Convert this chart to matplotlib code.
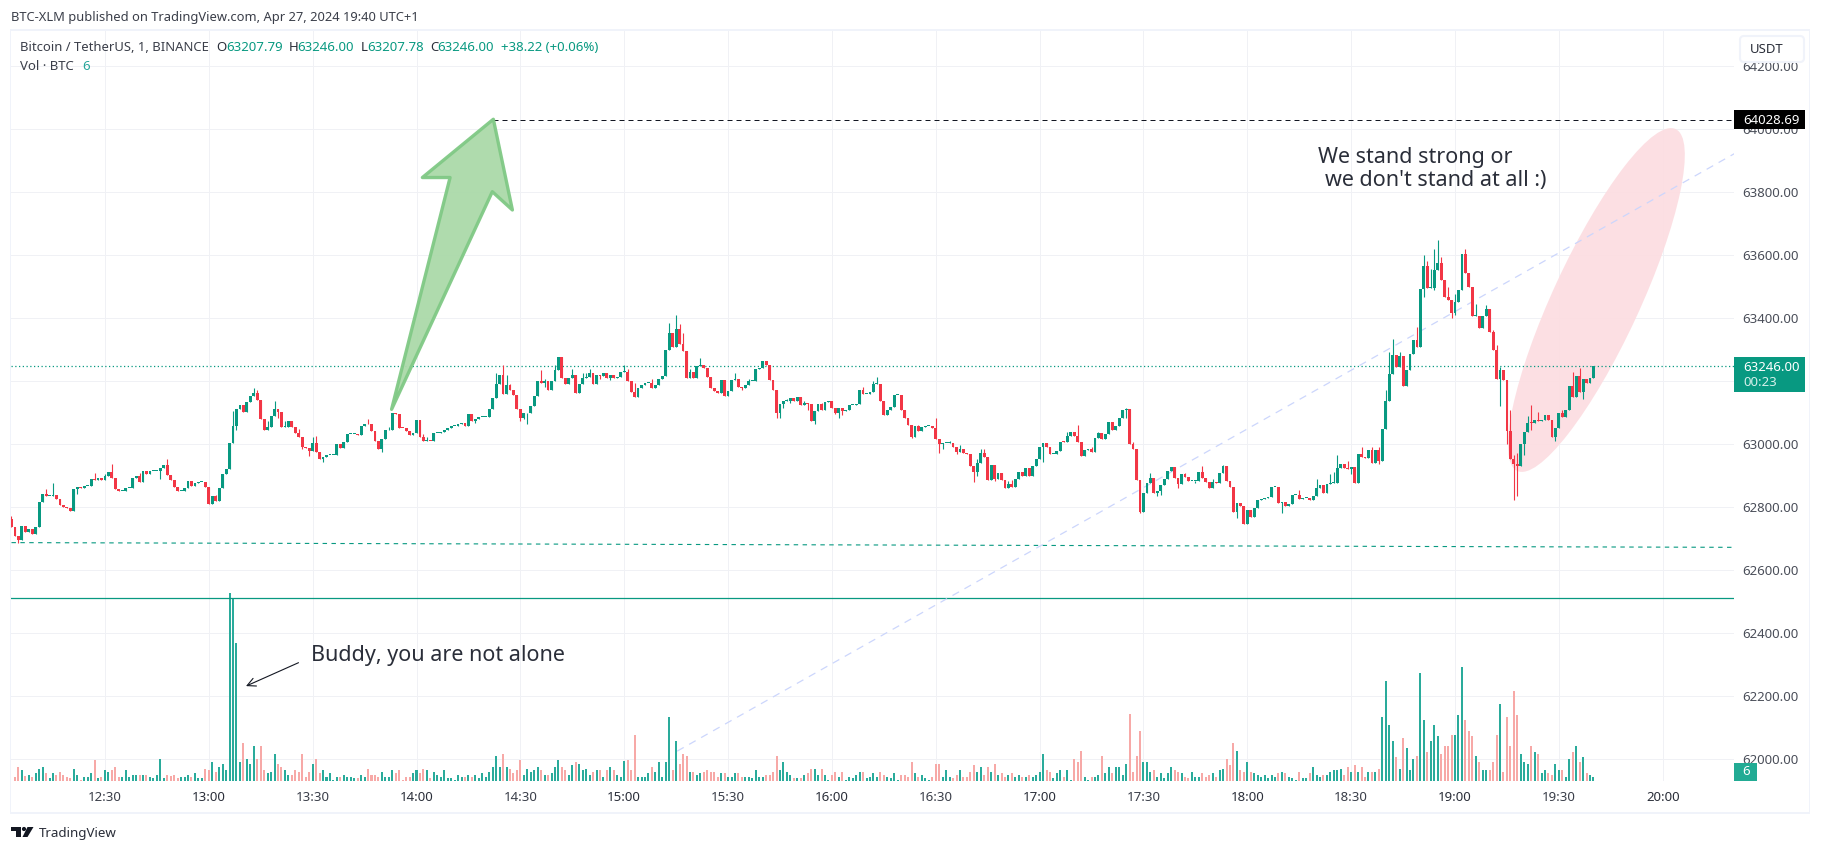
import numpy as np
import matplotlib
matplotlib.use("Agg")
import matplotlib.pyplot as plt
from matplotlib.patches import Ellipse, Polygon, Rectangle, FancyBboxPatch, Circle
from matplotlib.transforms import IdentityTransform

# ---------- data: one-minute candles, index 0 = 12:03 ----------
first_open = 62760
closes = [
62736,62707,62694,62739,62720,62730,62712,62736,62816,62841,62834,62834,62836,62823,62806,62800,62797,62786,62855,62863,
62859,62867,62867,62889,62885,62892,62885,62897,62911,62890,62855,62850,62851,62858,62860,62890,62898,62878,62913,62903,
62914,62914,62914,62922,62931,62900,62885,62862,62850,62851,62860,62880,62866,62876,62879,62879,62863,62808,62833,62818,
62860,62903,62921,63001,63056,63109,63124,63100,63131,63153,63160,63138,63077,63043,63054,63089,63111,63100,63052,63054,
63071,63053,63033,63022,62991,62986,62976,63001,62973,62953,62959,62965,62965,62965,62998,62986,63006,63030,63030,63030,
63029,63055,63064,63061,63039,63010,62982,63014,63042,63044,63096,63093,63051,63049,63040,63027,63035,63074,63022,63008,
63010,63008,63033,63034,63037,63042,63050,63055,63055,63063,63067,63056,63093,63072,63077,63086,63086,63086,63109,63146,
63191,63217,63158,63185,63169,63154,63110,63083,63096,63096,63120,63150,63200,63193,63199,63169,63200,63233,63274,63208,
63189,63207,63217,63160,63189,63208,63213,63226,63188,63219,63216,63226,63209,63219,63210,63211,63229,63229,63199,63164,
63148,63178,63187,63193,63193,63177,63187,63206,63216,63296,63353,63307,63363,63316,63294,63208,63229,63210,63246,63251,
63240,63211,63177,63166,63160,63201,63153,63168,63201,63204,63180,63177,63186,63198,63200,63236,63239,63261,63250,63202,
63170,63096,63125,63135,63136,63146,63137,63147,63122,63128,63125,63072,63104,63125,63107,63131,63134,63114,63098,63112,
63104,63106,63122,63122,63125,63172,63158,63158,63165,63191,63191,63135,63091,63108,63117,63156,63156,63107,63081,63059,
63020,63055,63039,63054,63057,63057,63050,63015,62998,63001,63001,63003,62990,62973,62983,62969,62967,62929,62910,62940,
62972,62959,62884,62931,62887,62906,62885,62858,62873,62861,62887,62909,62897,62922,62899,62928,62953,62991,63001,62989,
62966,62967,62978,63006,63005,63023,63036,63026,63005,62961,62979,62982,62973,63017,63033,63014,63032,63068,63043,63056,
63083,63106,63109,62998,62983,62885,62783,62845,62874,62890,62843,62851,62870,62887,62914,62925,62892,62871,62903,62893,
62881,62882,62882,62909,62891,62878,62858,62879,62874,62908,62930,62881,62862,62783,62812,62803,62746,62788,62767,62797,
62822,62826,62827,62831,62864,62864,62812,62815,62803,62809,62838,62838,62824,62827,62827,62822,62834,62860,62868,62843,
62871,62876,62876,62924,62934,62924,62919,62926,62875,62968,62958,62955,62979,62939,62979,62945,63047,63135,63222,63283,
63243,63277,63182,63235,63286,63330,63307,63492,63563,63495,63495,63550,63575,63520,63465,63455,63415,63450,63489,63603,
63542,63499,63404,63404,63368,63404,63428,63354,63296,63205,63235,63201,63040,62950,62934,62929,62998,63037,63067,63065,
63076,63071,63074,63090,63074,63021,63051,63098,63085,63106,63182,63148,63214,63164,63206,63192,63208,63246,
]
wick_highs = {
0:62772,10:62857,12:62874,24:62906,27:62903,29:62934,37:62908,45:62950,59:62838,64:63104,70:63176,71:63169,74:63071,76:63137,
79:63071,83:63047,87:63020,88:63023,103:63077,109:63054,119:63032,120:63020,140:63225,142:63251,143:63217,144:63191,153:63233,
154:63204,157:63249,162:63236,165:63225,166:63225,167:63236,177:63249,178:63236,180:63193,185:63204,190:63384,192:63410,193:63379,
194:63350,196:63236,199:63273,209:63225,213:63204,218:63264,224:63141,229:63134,234:63130,246:63181,249:63198,250:63213,262:63058,
267:63080,271:63009,274:62995,279:62950,280:62984,281:62982,288:62881,289:62884,304:63009,305:63038,308:63058,312:62988,314:63038,
322:63112,324:63006,329:62906,339:62907,344:62928,347:62887,350:62932,372:62852,377:62889,381:62905,382:62910,383:62963,386:62945,
390:62991,393:62989,395:62989,397:63169,398:63291,399:63333,401:63290,406:63372,408:63598,409:63580,410:63555,411:63617,412:63648,
413:63594,415:63497,417:63476,420:63619,423:63442,426:63439,428:63362,429:63312,430:63245,433:63106,434:62963,435:62970,438:63089,
439:63122,441:63100,448:63106,451:63227,453:63241,
}
wick_lows = {
2:62684,19:62839,43:62887,65:63043,77:63081,84:62982,86:62961,90:62942,107:62973,134:63067,147:63072,148:63077,149:63064,154:63181,
170:63204,173:63201,211:63170,221:63081,222:63083,223:63112,225:63128,230:63106,232:63064,238:63094,239:63083,240:63090,260:63017,
268:62969,269:62982,273:62968,278:62877,279:62897,284:62881,298:62942,322:63082,326:62780,331:62834,332:62836,337:62858,342:62875,
354:62765,367:62780,387:62905,395:62934,399:63228,404:63266,408:63465,411:63487,416:63400,417:63407,430:63119,432:63000,434:62820,
435:62834,437:62963,439:63045,446:63008,454:63142,
}
volumes = [
0,6,19,15,7,8,5,11,17,20,11,4,11,8,12,8,5,4,17,9,2,5,5,11,29,4,5,15,12,15,20,5,5,15,6,9,8,8,9,8,5,4,9,31,4,8,7,8,4,6,6,8,5,11,4,4,17,16,27,12,19,23,16,
259,252,191,26,52,30,23,49,30,48,15,11,13,38,24,19,16,9,8,15,12,38,5,12,24,31,11,15,6,11,2,6,6,8,6,5,4,4,9,6,17,8,9,6,12,6,6,15,11,15,2,5,6,11,15,11,17,16,4,13,8,5,15,4,4,2,8,5,5,8,6,8,4,11,5,12,20,35,19,37,20,17,11,16,29,9,17,13,15,20,15,8,8,11,20,29,20,16,9,22,27,23,16,17,8,13,16,16,6,15,20,16,8,
6,28,29,16,64,5,6,5,11,19,12,27,5,26,89,15,55,23,38,34,13,12,9,11,12,16,13,13,6,11,11,6,6,11,11,6,6,5,4,16,5,6,8,9,12,35,15,27,12,9,4,4,4,9,11,17,17,9,17,9,2,9,12,6,13,2,5,4,8,13,12,4,5,11,6,12,9,6,4,11,2,9,8,6,27,11,6,8,4,2,5,24,24,5,15,5,4,9,16,5,6,12,22,12,19,9,20,13,24,9,11,5,9,11,5,8,5,6,9,6,8,13,37,16,12,4,11,15,6,15,2,30,27,42,6,2,6,5,8,35,11,20,11,19,19,8,24,92,13,35,69,26,26,12,15,6,11,4,11,20,15,13,11,5,4,13,6,6,11,6,9,11,5,
15,17,30,22,53,42,16,12,26,12,11,8,6,8,4,8,5,11,12,11,5,4,2,13,4,4,11,19,8,6,9,8,13,16,16,17,8,20,12,22,13,19,5,13,12,13,17,89,138,78,56,33,17,59,45,15,31,35,149,84,40,55,78,62,37,48,49,64,64,91,157,84,69,62,35,27,16,16,16,26,63,106,13,89,49,125,91,38,27,24,48,40,38,11,15,11,8,24,15,15,6,30,40,49,26,33,11,8,6,
]
price_ticks = [62000, 62200, 62400, 62600, 62800, 63000, 63200, 63400, 63600, 63800, 64000, 64200]
hidden_price_labels = [63200]  # covered by the last-price badge in the reference
time_labels = ["12:30","13:00","13:30","14:00","14:30","15:00","15:30","16:00","16:30","17:00","17:30","18:00","18:30","19:00","19:30","20:00"]
time_ticks = [27,57,87,117,147,177,207,237,267,297,327,357,387,417,447,477]
last_price = 63246.00
target_price = 64028.69
support_idx, support_price = [0, 498], [62686, 62671]
level_price = 62511
trend_idx, trend_price = [192.3, 497.9], [62024, 63922]
arrow_idx = [109.8, 126.7, 118.7, 139.2, 144.7, 138.9]
arrow_price = [63109, 63845, 63845, 64030, 63742, 63800]

# ---------- layout ----------
W, H = 1824, 852
L, R, T_, B = 11.0, 1734.0, 31.0, 781.7
Y_SHIFT = 0.6
px_per_bar = 3.4617
FONT = "Noto Sans"
plt.rcParams["font.family"] = FONT
UP, DOWN = "#089981", "#f23645"
VUP, VDOWN = "#2aab9b", "#f7a9a7"
TXT = "#2a2e39"
GRID = "#f0f1f5"
SMALL = 9.5

def ypx(y):
    return H - y

def price_at(y):
    return 63400 - (y - 318.3) * 200 / 63

def idx_at(x):
    return 57 + (x - 208.8) / px_per_bar

fig = plt.figure(figsize=(W / 100, H / 100), dpi=100, facecolor="white")
ax = fig.add_axes([L / W, 1 - (B - Y_SHIFT) / H, (R - L) / W, (B - T_) / H])
ax.set_xlim(idx_at(L), idx_at(R))
ax.set_ylim(price_at(B), price_at(T_))
ax.set_facecolor("white")
for s in ax.spines.values():
    s.set_visible(False)
ax.set_axisbelow(True)
ax.grid(True, color=GRID, lw=0.72)

# ellipse is a free-hand drawing: defined in screen space
ax.add_patch(Ellipse((1596.4, ypx(300)), 376.8, 86.8, angle=65.15, transform=IdentityTransform(),
                     facecolor="#fcdde1", edgecolor="none", zorder=1, alpha=0.92))

# ---------- volume ----------
n = len(closes)
x = np.arange(n)
c = np.array(closes, float)
o = np.r_[first_open, c[:-1]]
hi = np.maximum(o, c)
lo = np.minimum(o, c)
for k, v in wick_highs.items():
    hi[k] = max(hi[k], v)
for k, v in wick_lows.items():
    lo[k] = min(lo[k], v)
up = c >= o

vax = ax.twinx()
vax.set_position(ax.get_position())
vax.set_ylim(0, (B - T_) / 0.7246)
vax.set_yticks([])
vax.patch.set_visible(False)
for s in vax.spines.values():
    s.set_visible(False)
vax.bar(x, np.array(volumes), width=0.58, color=[VUP if u else VDOWN for u in up], linewidth=0, zorder=2)

# ---------- lines and candles on top of volume ----------
ov = ax.twinx()
ov.set_position(ax.get_position())
ov.set_ylim(ax.get_ylim())
ov.set_yticks([])
ov.patch.set_visible(False)
for s in ov.spines.values():
    s.set_visible(False)

# axis labels (after the twins, which would otherwise move them to the left)
ax.set_yticks(price_ticks)
ax.set_yticklabels(["" if p in hidden_price_labels else f"{p:.2f}" for p in price_ticks], fontsize=SMALL, color="#4a4e59")
ax.yaxis.tick_right()
ax.tick_params(axis="y", length=0, pad=6.2)
ax.set_xticks(time_ticks)
ax.set_xticklabels(time_labels, fontsize=SMALL, color="#3a3e49")
ax.tick_params(axis="x", length=0, pad=7)
for lab, t in zip(ax.get_xticklabels(), time_labels):
    if t.endswith(":00"):
        lab.set_fontweight("semibold")
        lab.set_color(TXT)

ov.axhline(level_price, color="#089981", lw=0.9, zorder=2)
ov.plot(support_idx, support_price, color="#089981", lw=0.8, ls=(0, (4, 4)), zorder=2)
ov.plot(trend_idx, trend_price, color="#ccd6fc", lw=0.9, ls=(0, (6, 5)), zorder=2)
ov.axhline(last_price, color="#089981", lw=0.9, ls=(0, (1, 2)), zorder=2)
ov.plot([arrow_idx[3], idx_at(R)], [target_price, target_price], color="#131722", lw=0.72, ls=(0, (5, 4)), zorder=2)

ov.vlines(x, lo, hi, colors=[UP if u else DOWN for u in up], lw=0.8, zorder=3)
body_h = np.maximum(np.abs(c - o), 3.0)
ov.bar(x, body_h, bottom=np.minimum(o, c), width=0.82, color=[UP if u else DOWN for u in up], linewidth=0, zorder=4)

ov.add_patch(Polygon(np.c_[arrow_idx, arrow_price], closed=True, facecolor="#abd9a9", edgecolor="#80c985",
                     lw=2.4, joinstyle="round", zorder=5, alpha=0.95))

ov.annotate("", xy=(idx_at(246), price_at(686.7)), xytext=(idx_at(298.5), price_at(663.3)),
            arrowprops=dict(arrowstyle="->,head_length=0.6,head_width=0.3", color="#131722", lw=0.8,
                            shrinkA=0, shrinkB=0), zorder=6)

def label(xp, yp, s, size=SMALL, color=TXT, weight="normal", z=20):
    fig.text(xp / W, 1 - yp / H, s, fontsize=size, color=color, va="center", ha="left", fontweight=weight, zorder=z)

ANN = 15.5
ANNC = "#2a2e39"
label(1318, 157.5, "We stand strong or", ANN, ANNC)
label(1324.6, 180.5, "we don't stand at all :)", ANN, ANNC)
label(310.8, 655, "Buddy, you are not alone", ANN, ANNC)

# ---------- header ----------
label(11, 17.3, "BTC-XLM published on TradingView.com, Apr 27, 2024 19:40 UTC+1", 9.3, "#3a3e49")
label(20, 47.3, "Bitcoin / TetherUS, 1, BINANCE", 9.4, "#3a3e49")
G = "#089981"
for xp, s, col in [(216.7, "O", TXT), (225.8, "63207.79", G), (288.6, "H", TXT), (297, "63246.00", G),
                   (360.6, "L", TXT), (367, "63207.78", G), (430, "C", TXT), (437.7, "63246.00", G),
                   (500.6, "+38.22 (+0.06%)", G)]:
    label(xp, 47.3, s, SMALL, col)
label(20, 66.3, "Vol · BTC", SMALL, "#3a3e49")
label(82.6, 66.3, "6", SMALL, "#26a69a")

# ---------- frame and price-scale badges ----------
def rect(x0, y0, x1, y1, fc, ec="none", lw=0, z=10):
    fig.add_artist(Rectangle((x0, ypx(y1)), x1 - x0, y1 - y0, facecolor=fc, edgecolor=ec, lw=lw,
                             transform=IdentityTransform(), zorder=z))

BORD = "#f0f3fa"
rect(10, 29, 1810, 31, BORD)
rect(10, 811.5, 1810, 813.5, BORD)
rect(9.5, 29, 11, 813.5, BORD)
rect(1808.5, 29, 1810, 813.5, BORD)

fig.add_artist(FancyBboxPatch((1740, ypx(62)), 64, 26, boxstyle="round,pad=0,rounding_size=4", facecolor="white",
                              edgecolor=BORD, lw=1.5, transform=IdentityTransform(), zorder=10))
label(1749.5, 49.5, "USDT", SMALL, "#2a2e39")

rect(1733.5, 110, 1804.5, 128.8, "black")
label(1743.5, 120, f"{target_price:.2f}", SMALL, "white", "semibold")
rect(1733.5, 357, 1804.5, 392, "#089981")
label(1743.5, 367, f"{last_price:.2f}", SMALL, "white", "semibold")
label(1743.5, 383, "00:23", SMALL, "#d5f0ea")
rect(1733.5, 762.7, 1756.5, 780.7, "#22ab94")
label(1742, 771.5, "6", SMALL, "white", "semibold")

# ---------- TradingView mark ----------
def shape(pts, z=12):
    fig.add_artist(Polygon([(a, ypx(b)) for a, b in pts], closed=True, facecolor="#131722", edgecolor="none",
                           transform=IdentityTransform(), zorder=z))

shape([(11, 827), (20.5, 827), (20.5, 837), (15.5, 837), (15.5, 831), (11, 831)])
fig.add_artist(Circle((24, ypx(829)), 2.1, facecolor="#131722", edgecolor="none", transform=IdentityTransform(), zorder=12))
shape([(27.5, 827), (33.5, 827), (27.5, 837), (22.5, 837)])
label(38.4, 833, "TradingView", 9.6, "#2a2e39")

fig.savefig("out.png", dpi=100, facecolor="white")
